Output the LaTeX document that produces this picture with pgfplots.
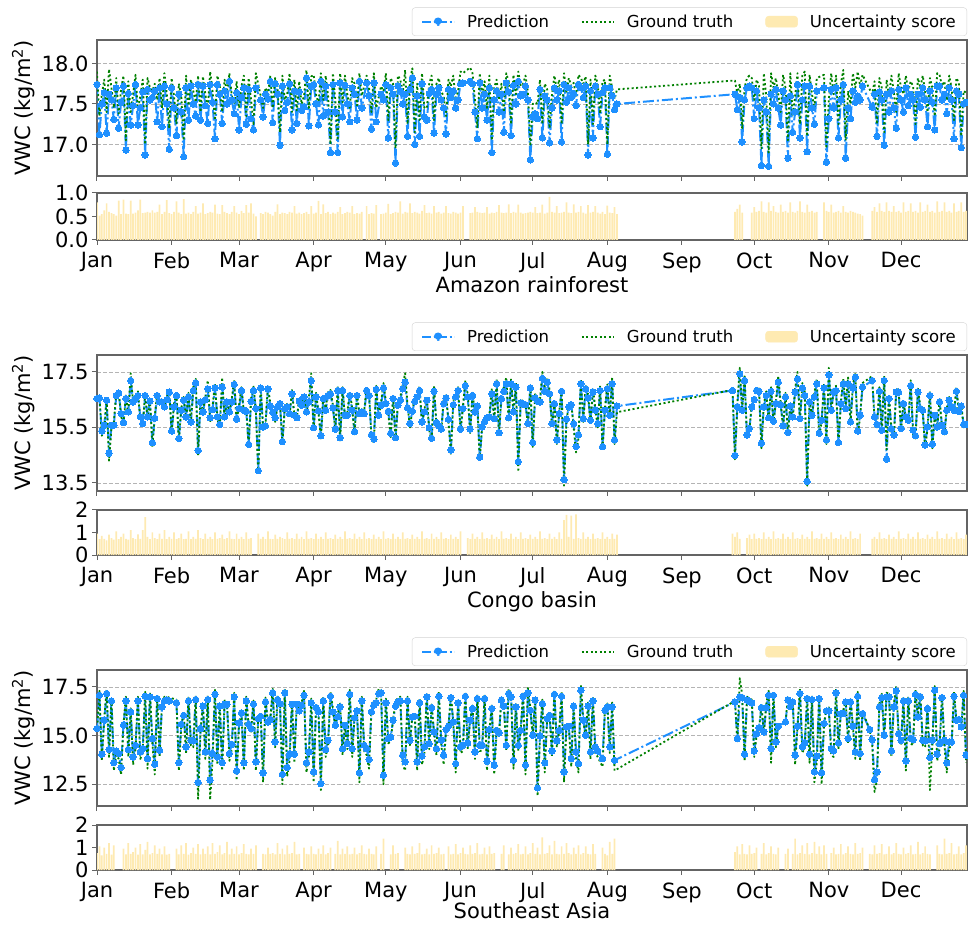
\documentclass[border=0pt]{standalone}
\usepackage{fontspec}
\setmainfont{DejaVu Sans}
\usepackage{pgfplots}
\usepackage{pgfplotstable}
\pgfplotsset{compat=1.18}
\definecolor{pred}{HTML}{1E90FF}
\definecolor{gt}{HTML}{008000}
\definecolor{unc}{RGB}{254,234,178}
\definecolor{spinecol}{RGB}{100,100,100}
\definecolor{gridcol}{RGB}{180,180,180}
\definecolor{legcol}{RGB}{210,210,210}

\pgfplotstableread{
d p g u
0 17.74 17.90 0.80
1 17.12 17.35 0.52
2 17.50 17.62 0.55
3 17.64 17.80 0.63
4 17.14 17.40 0.78
5 17.62 17.93 0.60
6 17.55 17.70 0.57
7 17.31 17.45 0.55
8 17.70 17.82 0.52
9 17.20 17.38 0.84
10 17.52 17.68 0.55
11 17.72 17.85 0.86
12 16.93 17.05 0.56
13 17.63 17.78 0.55
14 17.24 17.40 0.84
15 17.48 17.62 0.56
16 17.74 17.86 0.58
17 17.24 17.42 0.63
18 17.45 17.60 0.86
19 17.65 17.80 0.57
20 16.87 17.00 0.58
21 17.68 17.82 0.60
22 17.55 17.70 0.58
23 17.58 17.66 0.63
24 17.66 17.75 0.58
25 17.28 17.55 0.60
26 17.70 17.82 0.75
27 17.22 17.45 0.55
28 17.72 17.88 0.60
29 17.50 17.62 0.85
30 16.94 17.20 0.57
31 17.70 17.82 0.55
32 17.45 17.60 0.60
33 17.11 17.25 0.82
34 17.62 17.75 0.58
35 17.40 17.60 0.55
36 16.85 17.05 0.87
37 17.70 17.85 0.56
38 17.30 17.48 0.58
39 17.72 17.80 0.55
40 17.50 17.66 0.60
41 17.35 17.52 0.72
42 17.74 17.85 0.56
43 17.30 17.40 0.58
44 17.72 17.84 0.78
45 17.48 17.62 0.55
46 17.26 17.45 0.57
47 17.74 17.90 0.60
48 17.52 17.66 0.58
49 17.07 17.30 0.75
50 17.74 17.85 0.56
51 17.62 17.72 0.55
52 17.26 17.40 0.74
53 17.66 17.80 0.60
54 17.50 17.65 0.57
55 17.78 17.88 0.55
56 17.55 17.60 0.60
57 17.38 17.50 0.72
58 17.64 17.78 0.58
59 17.18 17.45 0.55
60 17.58 17.72 0.62
61 17.70 17.85 0.57
62 17.25 17.35 0.74
63 17.68 17.82 0.58
64 17.32 17.55 0.78
65 17.18 17.25 0.56
66 17.70 17.88 0.50
68 17.55 17.60 0.57
69 17.34 17.45 0.55
70 17.62 17.70 0.60
71 17.56 17.62 0.58
72 17.78 17.85 0.55
73 17.27 17.45 0.52
74 17.75 17.82 0.60
75 17.62 17.72 0.76
76 16.99 17.15 0.55
77 17.72 17.85 0.58
78 17.42 17.55 0.57
79 17.52 17.62 0.55
80 17.75 17.88 0.60
81 17.18 17.40 0.58
82 17.66 17.80 0.72
83 17.26 17.42 0.56
84 17.65 17.78 0.58
85 17.42 17.50 0.55
86 17.46 17.60 0.57
87 17.82 17.92 0.60
88 17.23 17.45 0.55
89 17.72 17.84 0.72
90 17.74 17.86 0.56
91 17.50 17.62 0.58
92 17.24 17.50 0.83
93 17.78 17.88 0.55
94 17.35 17.55 0.76
95 17.72 17.85 0.57
96 17.40 17.60 0.60
97 16.90 17.00 0.55
98 17.74 17.88 0.58
99 17.40 17.55 0.56
100 16.90 17.05 0.60
101 17.76 17.88 0.70
102 17.34 17.52 0.55
103 17.73 17.85 0.57
104 17.50 17.62 0.60
105 17.28 17.45 0.58
106 17.70 17.82 0.72
107 17.62 17.75 0.55
108 17.30 17.48 0.57
109 17.78 17.88 0.56
110 17.45 17.60 0.60
112 17.76 17.85 0.72
113 17.60 17.70 0.55
114 17.19 17.40 0.57
115 17.76 17.88 0.56
116 17.28 17.45 0.74
118 17.62 17.72 0.55
119 17.55 17.66 0.56
120 17.74 17.88 0.58
121 17.08 17.30 0.77
122 17.70 17.82 0.55
123 17.62 17.75 0.57
124 16.77 16.95 0.60
125 17.72 17.85 0.58
126 17.66 17.80 0.82
127 17.50 17.62 0.56
128 17.62 17.92 0.60
129 17.10 17.25 0.58
130 17.68 17.80 0.78
131 17.82 17.94 0.57
132 17.00 17.15 0.60
133 17.60 17.75 0.58
134 17.10 17.30 0.56
135 17.75 17.88 0.62
136 17.34 17.45 0.74
137 17.30 17.45 0.57
138 17.63 17.75 0.58
139 17.68 17.85 0.56
140 17.14 17.30 0.72
141 17.62 17.75 0.58
142 17.70 17.82 0.60
143 17.55 17.65 0.56
144 17.45 17.60 0.58
145 17.13 17.35 0.72
146 17.68 17.80 0.57
147 17.58 17.72 0.56
148 17.66 17.85 0.60
149 17.45 17.55 0.58
150 17.55 17.66 0.56
151 17.75 17.90 0.58
152 17.76 17.88 0.72
155 17.78 17.95 0.57
156 17.75 17.88 0.58
157 17.40 17.55 0.70
158 17.07 17.20 0.60
159 17.76 17.88 0.58
160 17.45 17.60 0.57
161 17.62 17.78 0.58
162 17.30 17.45 0.70
163 17.70 17.85 0.56
164 16.90 17.05 0.58
165 17.55 17.70 0.57
166 17.66 17.80 0.60
167 17.40 17.55 0.74
168 17.62 17.75 0.58
169 17.15 17.40 0.57
170 17.76 17.88 0.58
171 17.65 17.78 0.76
172 17.11 17.25 0.57
173 17.73 17.86 0.60
174 17.50 17.62 0.58
175 17.78 17.90 0.75
176 17.60 17.72 0.58
177 17.62 17.75 0.56
178 17.72 17.85 0.57
179 17.55 17.65 0.58
180 16.81 16.98 0.60
181 17.34 17.50 0.58
182 17.38 17.52 0.70
183 17.32 17.50 0.57
184 17.68 17.80 0.58
185 17.08 17.25 0.75
186 17.60 17.75 0.56
187 17.55 17.68 0.58
188 17.02 17.20 0.92
189 17.45 17.62 0.60
190 17.70 17.85 0.58
191 17.55 17.68 0.72
192 17.66 17.80 0.57
193 17.03 17.25 0.58
194 17.74 17.88 0.60
195 17.52 17.65 0.80
196 17.70 17.82 0.58
197 17.58 17.72 0.57
198 17.63 17.76 0.76
199 17.48 17.60 0.58
200 17.74 17.86 0.60
201 17.70 17.82 0.72
202 17.58 17.75 0.58
203 17.72 17.84 0.56
204 16.87 17.00 0.74
205 17.66 17.80 0.58
206 17.08 17.25 0.60
207 17.72 17.85 0.72
208 17.62 17.75 0.58
209 17.22 17.38 0.56
210 17.64 17.78 0.60
211 17.70 17.80 0.55
212 16.88 17.00 0.73
213 17.70 17.85 0.58
214 17.60 17.70 0.57
215 17.43 17.56 0.70
216 17.50 17.68 0.55
265 17.62 17.79 0.60
266 17.43 17.62 0.66
267 17.58 17.75 0.75
268 17.03 17.20 0.58
269 17.55 17.70 nan
270 17.70 17.82 nan
271 17.72 17.85 nan
272 17.70 17.82 0.58
273 17.32 17.55 0.70
274 17.66 17.80 0.60
275 17.45 17.72 0.62
276 16.74 16.95 0.82
277 17.55 17.88 0.60
278 17.40 17.60 0.58
279 16.73 16.90 0.80
280 17.62 17.88 0.62
281 17.50 17.70 0.72
282 17.68 17.82 0.60
283 17.45 17.62 0.58
284 17.24 17.40 0.75
285 17.66 17.86 0.60
286 17.55 17.70 0.62
287 16.83 17.05 0.58
288 17.60 17.88 0.80
289 17.15 17.35 0.60
290 17.40 17.60 0.58
291 17.74 17.88 0.62
292 17.08 17.25 0.82
293 17.55 17.85 0.60
294 17.72 17.90 0.58
295 16.91 17.10 0.75
296 17.72 17.86 0.60
297 17.45 17.62 0.62
298 17.25 17.45 0.58
299 17.66 17.82 0.60
302 17.70 17.86 0.80
303 16.78 16.95 0.62
304 17.32 17.55 0.60
305 17.68 17.88 0.75
306 17.45 17.62 0.58
307 17.70 17.85 0.60
308 17.08 17.25 0.62
309 17.55 17.75 0.58
310 17.74 17.92 0.72
311 16.83 17.05 0.60
312 17.45 17.66 0.58
313 17.32 17.50 0.62
314 17.66 17.88 0.60
315 17.52 17.70 0.58
316 17.60 17.90 0.56
317 17.55 17.72 0.55
318 17.72 17.86 0.52
322 17.46 17.62 0.62
323 17.62 17.78 0.70
324 17.10 17.25 0.60
325 17.65 17.82 0.78
326 17.55 17.70 0.62
327 16.99 17.15 0.60
328 17.62 17.80 0.80
329 17.40 17.60 0.62
330 17.66 17.85 0.60
331 17.45 17.65 0.72
332 17.20 17.40 0.60
333 17.68 17.88 0.62
334 17.55 17.70 0.58
335 17.40 17.62 0.80
336 17.70 17.85 0.60
337 17.48 17.66 0.62
338 17.62 17.78 0.78
339 17.55 17.72 0.60
340 17.09 17.25 0.62
341 17.62 17.82 0.58
342 17.46 17.70 0.80
343 17.70 17.85 0.60
344 17.55 17.66 0.62
345 17.22 17.40 0.75
346 17.66 17.82 0.60
347 17.52 17.70 0.62
348 17.18 17.35 0.58
349 17.72 17.88 0.82
350 17.72 17.86 0.60
351 17.55 17.72 0.62
352 17.62 17.78 0.80
353 17.38 17.55 0.60
354 17.70 17.85 0.62
355 17.55 17.70 0.58
356 17.07 17.30 0.78
357 17.66 17.82 0.60
358 17.62 17.76 0.62
359 16.96 17.10 0.80
360 17.50 17.66 0.60
361 17.52 17.64 0.62
}\amazon

\pgfplotstableread{
d p g u
0 16.54 16.60 0.95
1 16.56 16.70 0.70
2 15.37 15.20 0.85
3 15.58 15.40 0.72
4 16.48 16.55 0.65
5 14.57 14.30 0.90
6 15.58 15.45 0.75
7 15.58 15.70 0.68
8 16.65 16.75 1.05
9 16.74 16.80 0.70
10 16.00 15.90 0.80
11 15.68 15.60 0.95
12 16.54 16.65 0.72
13 16.06 16.00 0.68
14 17.19 17.45 1.10
15 16.42 16.35 0.75
16 16.54 16.60 0.70
17 16.65 16.80 0.92
18 15.88 15.75 0.72
19 15.64 15.60 1.10
20 16.65 16.70 1.68
21 15.88 15.80 0.80
22 16.45 16.55 0.70
23 14.95 14.80 1.00
24 15.83 15.90 0.75
25 16.65 16.75 0.70
26 16.42 16.50 0.95
27 16.42 16.35 0.72
28 16.24 16.30 1.10
29 16.50 16.60 0.70
30 16.77 16.90 0.80
31 15.37 15.30 0.72
32 16.24 16.35 1.00
33 16.65 16.75 0.70
34 15.10 15.00 0.75
35 16.12 16.20 0.95
36 16.48 16.60 0.70
37 15.88 15.80 0.72
38 16.60 16.75 1.05
39 15.70 15.65 0.70
40 16.83 16.95 0.80
41 17.10 17.25 0.72
42 14.67 14.50 1.10
43 16.42 16.50 0.75
44 16.06 16.10 0.70
45 16.50 16.60 0.95
46 16.89 17.20 0.72
47 15.85 15.70 0.80
48 16.14 16.25 0.70
49 16.92 17.10 1.00
50 15.88 15.80 0.72
51 15.61 15.50 0.75
52 16.95 17.30 0.90
53 15.88 15.80 0.70
54 16.42 16.50 0.75
55 16.06 16.00 1.05
56 16.42 16.55 0.72
57 17.05 17.20 0.70
58 15.80 15.70 0.95
59 16.18 16.30 0.72
60 16.83 16.95 0.80
61 16.12 16.05 0.70
62 16.08 16.20 1.00
63 14.89 14.80 0.72
64 16.44 16.55 0.75
65 16.83 17.00 nan
66 16.18 16.10 nan
67 13.94 13.80 0.95
68 16.92 17.05 0.72
69 15.52 15.40 0.80
70 15.56 15.65 0.70
71 16.89 17.00 1.05
72 16.27 16.35 0.72
73 16.05 16.10 0.70
74 15.85 15.70 0.90
75 16.24 16.30 0.72
76 16.36 16.45 0.80
77 14.99 14.85 0.75
78 16.18 16.25 0.70
79 16.24 16.35 1.00
80 16.00 15.95 0.72
81 16.71 16.85 0.75
82 15.94 15.90 0.70
83 15.85 15.80 0.95
84 16.45 16.55 0.72
85 16.30 16.40 0.80
86 16.60 16.70 0.70
87 16.06 16.00 1.05
88 16.42 16.55 0.72
89 17.19 17.45 0.75
90 15.49 15.40 0.70
91 16.60 16.75 0.95
92 16.10 16.05 0.72
93 15.20 15.10 0.80
94 16.54 16.65 0.70
95 16.12 16.20 1.00
96 16.65 16.80 0.72
97 16.71 16.85 0.75
98 16.20 16.30 0.70
99 15.44 15.35 0.90
100 16.83 17.00 0.72
101 15.13 15.00 0.80
102 16.83 16.95 0.70
103 15.94 15.85 1.05
104 15.94 16.05 0.72
105 16.65 16.80 0.75
106 16.12 16.20 0.70
107 15.35 15.25 0.95
108 16.65 16.75 0.72
109 16.00 15.95 0.80
110 16.06 16.15 0.70
111 16.00 16.10 1.00
112 16.83 16.95 0.72
113 16.65 16.80 0.75
114 15.23 15.10 0.70
115 15.08 14.95 0.90
116 16.87 17.00 0.72
117 15.94 15.85 0.80
118 16.30 16.40 0.70
119 16.92 17.10 1.05
120 16.36 16.45 0.72
121 16.08 16.00 0.75
122 15.29 15.15 0.70
123 16.54 16.65 0.95
124 15.13 15.00 0.72
125 16.30 16.40 0.80
126 16.48 16.60 0.70
127 16.89 17.05 1.00
128 17.13 17.45 0.72
129 16.20 16.30 0.75
130 15.64 15.50 0.70
131 16.08 16.15 0.90
132 16.44 16.55 0.72
133 16.60 16.70 0.80
134 16.83 17.00 0.70
135 15.70 15.60 1.05
136 16.06 16.15 0.72
137 16.48 16.60 0.75
138 15.49 15.40 0.70
139 15.11 15.00 0.95
140 16.80 17.00 0.72
141 15.68 15.60 0.80
142 15.56 15.50 0.70
143 15.44 15.35 1.00
144 16.36 16.50 0.72
145 16.56 16.70 0.75
146 15.79 15.70 0.70
147 14.69 14.55 0.90
148 16.32 16.45 0.72
149 16.60 16.75 0.80
150 16.83 16.95 0.70
151 15.44 15.35 1.05
152 16.18 16.25 nan
153 17.01 17.20 nan
154 16.60 16.70 0.75
155 15.44 15.30 0.70
156 16.65 16.75 0.95
157 16.06 16.00 0.72
158 16.27 16.35 0.80
159 14.43 14.30 0.70
160 15.52 15.60 1.00
161 15.70 15.75 0.72
162 15.85 15.90 0.75
163 15.88 15.95 0.70
164 16.71 16.90 0.90
165 15.82 15.75 0.72
166 17.07 17.25 0.80
167 15.31 15.20 0.70
168 16.54 16.65 1.05
169 16.80 16.95 0.72
170 17.07 17.30 0.75
171 15.85 15.75 0.70
172 17.07 17.25 0.95
173 16.06 16.00 0.72
174 16.95 17.10 0.80
175 14.27 13.90 0.70
176 16.39 16.50 1.00
177 16.35 16.45 0.72
178 16.32 16.40 0.75
179 15.64 15.55 0.70
180 16.92 17.05 0.90
181 14.96 14.80 0.72
182 16.56 16.70 0.80
183 16.44 16.55 0.70
184 16.42 16.50 1.05
185 17.27 17.50 0.72
186 16.80 16.95 0.75
187 17.13 17.30 0.70
188 16.71 16.85 0.95
189 15.64 15.50 0.72
190 16.36 16.45 0.80
191 15.05 14.90 0.70
192 16.00 16.05 1.00
193 16.80 16.90 0.72
194 13.62 13.40 1.55
195 15.80 15.70 1.78
196 16.24 16.35 0.80
197 16.32 16.40 1.75
198 15.64 15.50 0.72
199 14.81 14.60 1.80
200 15.23 15.10 0.75
201 17.07 17.25 0.70
202 15.82 15.70 1.00
203 16.89 17.00 0.72
204 16.56 16.70 0.80
205 15.76 15.65 0.70
206 16.77 16.90 0.95
207 16.12 16.20 0.72
208 15.64 15.50 0.75
209 16.83 17.00 0.70
210 14.81 14.70 1.00
211 16.12 16.20 0.72
212 16.89 17.05 0.80
213 15.94 15.85 0.70
214 17.07 17.30 0.95
215 15.05 14.90 0.72
216 16.27 16.05 0.90
264 16.83 16.85 0.95
265 14.49 14.35 0.80
266 16.24 16.40 1.00
267 17.43 17.65 0.72
268 16.12 16.05 nan
269 17.19 17.40 nan
270 15.23 15.10 0.75
271 15.46 15.40 0.90
272 16.24 16.35 0.70
273 16.50 16.60 0.95
274 16.83 16.95 0.72
275 16.80 16.90 0.75
276 14.93 14.75 0.70
277 16.24 16.35 1.00
278 16.65 16.80 0.72
279 15.85 15.75 0.80
280 16.80 16.95 0.70
281 15.73 15.65 1.05
282 16.36 16.45 0.72
283 17.13 17.35 0.75
284 16.32 16.40 0.70
285 15.56 15.45 0.95
286 16.60 16.75 0.72
287 15.32 15.20 0.80
288 16.27 16.35 0.70
289 15.88 15.80 1.00
290 16.77 16.90 0.72
291 17.25 17.50 0.75
292 15.82 15.75 0.70
293 16.92 17.10 0.90
294 16.65 16.80 0.72
295 13.56 13.40 0.80
296 16.42 16.55 0.70
297 15.94 15.85 1.05
298 16.60 16.75 0.72
299 17.07 17.25 0.75
300 15.29 15.15 0.70
301 15.76 15.70 0.95
302 16.92 17.10 0.72
303 15.05 14.90 0.80
304 17.39 17.65 0.70
305 16.12 16.05 1.00
306 16.77 16.90 0.72
307 16.83 17.00 0.75
308 14.96 14.80 0.70
309 16.36 16.45 0.90
310 17.07 17.25 0.72
311 16.18 16.30 0.80
312 17.07 17.30 0.70
313 15.70 15.60 1.05
314 16.92 17.05 0.72
315 17.31 17.45 0.75
316 15.37 15.25 0.70
317 15.94 15.85 0.95
318 16.95 17.10 nan
322 17.19 17.35 0.72
323 15.88 15.75 0.80
324 15.61 15.50 0.70
325 16.80 16.95 1.00
326 15.40 15.30 0.72
327 17.19 17.35 0.75
328 14.36 14.70 0.70
329 16.54 16.70 0.90
330 15.46 15.35 0.72
331 15.23 15.10 0.80
332 16.77 16.90 0.70
333 16.77 16.85 1.05
334 15.46 15.35 0.72
335 16.36 16.45 0.75
336 15.88 15.80 0.70
337 15.76 15.65 0.95
338 17.01 17.20 0.72
339 15.40 15.25 0.80
340 15.20 15.10 0.70
341 16.77 16.90 1.00
342 16.18 16.25 0.72
343 16.12 16.05 0.75
344 14.87 14.75 0.70
345 15.52 15.45 0.90
346 16.65 16.80 0.72
347 14.90 14.75 0.80
348 15.94 15.90 0.70
349 15.52 15.45 1.05
350 16.42 16.55 0.72
351 15.58 15.50 0.75
352 15.35 15.25 0.70
353 16.12 16.20 0.95
354 16.48 16.60 0.72
355 16.24 16.35 0.80
356 16.12 16.05 0.70
357 16.80 16.95 1.00
358 16.08 16.05 0.72
359 16.27 16.35 0.75
360 15.61 15.50 0.70
361 15.61 15.55 0.90
}\congo

\pgfplotstableread{
d p g u
0 15.36 15.20 0.75
1 17.07 17.30 1.05
2 14.04 13.70 0.65
3 15.79 15.90 1.00
4 17.16 17.35 0.72
5 14.28 13.90 1.20
6 16.78 16.95 0.68
7 13.61 13.20 1.10
8 14.21 14.00 nan
9 14.08 13.80 nan
10 13.36 13.00 nan
11 15.53 15.60 0.95
12 16.78 17.00 0.70
13 14.28 13.90 1.20
14 16.22 16.40 0.72
15 13.90 13.50 0.80
16 14.50 14.30 1.00
17 16.78 17.00 0.68
18 14.16 13.80 1.15
19 14.33 14.10 0.70
20 17.02 17.25 0.90
21 13.82 13.30 1.25
22 16.99 17.20 0.70
23 14.85 14.60 0.75
24 13.53 13.00 1.10
25 16.90 17.10 0.72
26 14.25 13.90 0.95
27 16.47 16.65 0.70
28 16.78 17.00 1.05
29 16.82 17.00 0.68
30 16.78 16.95 0.72
33 16.68 16.85 0.95
34 13.61 13.20 0.70
35 15.58 15.50 1.10
36 16.04 16.20 0.72
37 14.42 14.10 1.20
38 16.78 17.00 0.68
39 14.76 14.50 0.75
40 14.73 14.40 1.00
41 16.85 17.05 0.72
42 12.59 11.75 1.15
43 15.36 15.20 0.70
44 16.51 16.70 0.95
45 14.16 13.80 0.72
46 16.85 17.05 1.05
47 12.71 11.70 0.70
48 14.08 13.70 1.20
49 17.12 17.35 0.72
50 13.90 13.50 0.80
51 16.51 16.70 1.10
52 13.61 13.20 0.70
53 16.61 16.80 0.75
54 16.61 16.75 1.25
55 14.08 13.70 0.70
56 14.55 14.30 0.95
57 16.99 17.20 0.72
58 13.18 12.70 1.05
59 15.65 15.60 0.70
60 16.16 16.30 0.75
61 13.60 13.20 1.15
62 16.78 17.00 0.72
63 15.58 15.50 0.70
64 15.36 15.20 0.95
65 16.61 16.80 0.72
66 13.65 13.20 1.10
67 15.87 15.90 nan
68 15.99 16.10 nan
69 13.08 12.60 0.72
70 16.73 16.95 0.70
71 15.70 15.60 1.00
72 15.82 15.90 0.72
73 17.19 17.40 0.75
74 14.67 14.40 0.70
75 16.85 17.05 1.20
76 16.64 16.80 0.72
77 13.01 12.50 0.95
78 17.19 17.40 0.70
79 13.36 12.90 1.10
80 14.04 13.70 0.72
81 16.61 16.80 0.75
82 14.04 13.60 1.25
83 16.61 16.80 0.70
84 16.27 16.40 0.72
85 16.56 16.70 nan
86 17.07 17.30 1.00
87 13.60 13.10 0.72
88 14.16 13.90 0.70
89 16.68 16.90 1.05
90 13.13 12.60 0.72
91 16.44 16.60 0.70
92 16.22 16.35 0.95
93 12.53 12.20 0.72
94 16.78 17.00 1.10
95 14.28 13.90 0.70
96 14.76 14.50 0.75
97 17.02 17.25 1.00
98 16.22 16.40 nan
99 15.53 15.45 0.72
100 15.96 16.10 1.30
101 16.47 16.65 0.70
102 14.33 14.00 0.95
103 15.53 15.50 0.72
104 14.59 14.30 1.05
105 17.12 17.35 0.70
106 14.33 13.90 0.72
107 15.91 16.00 1.00
108 16.27 16.45 0.70
109 13.08 12.60 0.75
110 16.78 17.00 1.10
111 14.50 14.20 0.72
112 14.33 14.00 0.70
113 13.77 13.30 0.95
114 16.22 16.40 0.72
115 16.56 16.75 0.70
116 16.68 16.85 1.05
117 17.16 17.40 nan
118 17.19 17.35 0.72
119 12.96 12.50 1.40
120 16.68 16.90 nan
121 14.85 14.60 nan
122 14.93 14.70 0.70
123 15.79 15.85 1.10
124 16.51 16.70 0.72
125 16.73 16.95 0.75
126 16.78 17.00 nan
127 13.99 13.50 nan
128 13.65 13.20 1.00
129 16.78 17.00 0.72
130 14.76 14.50 0.70
131 15.96 16.05 1.05
132 15.99 16.10 0.72
133 13.65 13.20 0.75
134 16.68 16.90 1.20
135 13.94 13.50 0.70
136 14.42 14.10 0.72
137 16.99 17.20 0.95
138 14.59 14.30 0.70
139 16.44 16.60 1.10
140 15.19 15.10 0.72
141 14.33 14.00 0.75
142 17.02 17.25 1.00
143 14.76 14.50 0.70
144 13.99 13.50 0.72
145 15.31 15.20 nan
146 15.48 15.40 1.05
147 16.95 17.15 0.70
148 15.70 15.65 0.72
149 13.56 13.10 1.15
150 16.68 16.90 0.70
151 14.42 14.10 0.75
152 14.50 14.20 1.00
153 17.02 17.25 0.72
154 14.62 14.30 0.70
155 15.79 15.80 1.10
156 16.39 16.55 0.72
157 14.16 13.80 0.75
158 16.90 17.10 1.20
159 14.50 14.20 0.70
160 14.50 14.25 0.72
161 16.90 17.10 1.00
162 13.68 13.20 0.70
163 15.31 15.25 1.05
164 16.39 16.55 0.72
165 13.48 13.00 0.75
166 15.27 15.20 nan
167 15.14 15.05 nan
168 16.82 17.00 0.72
169 16.51 16.70 1.10
170 14.50 14.20 nan
171 17.16 17.40 0.70
172 16.99 17.15 1.00
173 13.73 13.30 0.72
174 16.47 16.65 0.75
175 14.50 14.20 1.15
176 15.27 15.20 0.70
177 17.02 17.25 0.72
178 13.48 13.00 1.05
179 17.19 17.45 0.70
180 16.30 16.45 0.75
181 15.02 14.90 1.20
182 16.82 17.00 0.72
183 12.31 11.90 1.00
184 14.97 14.80 0.70
185 16.64 16.85 1.45
186 13.60 13.10 0.72
187 15.87 15.90 0.75
188 16.04 16.20 1.10
189 14.21 13.90 0.70
190 17.12 17.35 1.30
191 14.73 14.40 0.72
192 15.27 15.20 0.70
193 17.02 17.25 1.05
194 13.13 12.60 0.72
195 15.45 15.40 1.20
196 15.48 15.45 0.75
197 13.82 13.40 0.70
198 16.51 16.70 1.00
199 14.16 13.80 0.72
200 13.56 13.10 1.10
201 17.33 17.60 0.70
202 15.79 15.80 0.75
203 15.02 14.90 1.05
204 16.51 16.70 0.72
205 14.16 13.80 0.70
206 16.78 17.00 1.15
207 14.42 14.10 0.72
208 14.21 13.90 nan
210 13.82 13.40 1.00
211 16.30 16.45 0.72
212 16.47 16.65 0.65
213 14.42 14.10 1.25
214 16.47 16.70 0.72
215 13.73 13.20 1.40
265 16.73 16.78 0.80
266 14.85 14.70 1.05
267 16.99 17.95 0.70
268 16.94 17.10 1.15
269 14.04 13.70 0.72
270 16.82 17.00 0.70
271 16.75 16.90 1.10
272 16.68 16.85 0.72
273 14.21 13.90 0.75
274 15.10 15.00 1.00
275 15.40 15.30 nan
276 16.44 16.60 0.72
277 15.19 15.10 1.20
278 16.44 16.60 0.70
279 17.07 17.30 0.75
280 14.33 13.60 1.05
281 17.07 17.25 0.72
282 14.67 14.40 0.70
283 15.48 15.45 1.00
286 15.70 15.65 0.72
287 16.82 17.00 0.95
288 16.50 16.70 nan
289 16.73 16.90 0.72
290 13.99 13.50 1.40
291 15.48 15.45 0.70
292 17.16 17.40 0.75
293 14.42 14.10 1.10
294 14.62 14.40 0.72
295 16.90 17.10 1.20
296 14.04 13.60 0.70
297 16.85 17.05 0.75
298 13.13 12.60 1.25
299 13.94 13.60 0.72
300 16.90 17.10 1.05
301 13.08 12.50 0.70
302 15.62 15.60 1.10
303 16.27 16.40 0.72
304 16.27 16.45 nan
305 14.33 14.00 0.75
306 14.21 13.90 1.00
307 17.19 17.40 0.70
308 14.62 14.30 0.72
309 16.13 16.25 1.15
310 16.13 16.30 0.70
311 16.73 16.90 0.75
312 14.85 14.60 1.05
313 16.73 16.95 0.72
314 15.48 15.45 0.70
315 14.16 13.80 1.20
316 17.02 17.25 0.72
317 14.08 13.70 0.75
318 16.13 16.30 1.00
321 15.31 15.25 0.72
322 14.79 14.50 0.70
323 12.74 12.10 1.10
324 13.13 12.70 0.72
325 16.47 16.65 0.75
326 16.95 17.15 1.15
327 15.02 14.90 0.70
328 16.99 17.20 0.72
329 16.99 17.15 1.05
330 14.21 13.90 0.70
331 16.47 16.65 0.75
332 17.30 17.55 1.20
333 15.10 15.00 0.72
334 14.76 14.50 0.70
335 16.78 17.00 1.00
336 13.70 13.20 0.72
337 16.78 17.00 0.75
338 14.85 14.60 1.10
339 14.79 14.50 0.70
340 17.12 17.35 0.72
341 15.96 16.05 1.25
342 16.99 17.20 0.70
343 14.76 14.50 0.75
344 14.73 14.40 1.05
345 16.39 16.55 0.72
346 13.87 12.20 0.70
347 14.76 14.50 nan
348 17.33 17.55 nan
349 14.04 13.70 1.10
350 14.59 14.30 0.72
351 16.95 17.15 0.70
352 14.76 14.50 1.40
353 13.60 13.10 0.72
354 14.67 14.40 0.75
355 14.67 14.40 1.20
356 17.02 17.25 0.70
357 15.79 15.80 0.72
358 15.82 15.85 1.05
359 15.45 15.40 0.70
360 17.07 17.30 0.75
361 13.99 13.60 1.10
}\seasia

\pgfplotsset{
  common/.style={
    scale only axis, width=870pt, anchor=south west,
    xmin=0, xmax=361.4,
    xtick={0,31,59,90,120,151,181,212,243,273,304,334},
    tick pos=left, tick align=outside,
    major tick length=5pt,
    tick style={spinecol, line width=1pt},
    axis line style={spinecol, line width=1.2pt},
    tick label style={font=\fontsize{21}{25}\selectfont},
    label style={font=\fontsize{21}{25}\selectfont},
  },
  mainax/.style={
    common, height=136pt,
    xticklabels={,,,,,,,,,,,},
    ymajorgrids, grid style={gridcol, line width=0.8pt, dash pattern=on 4pt off 2pt},
    ylabel={VWC (kg/m\textsuperscript{2})},
    legend style={at={(1,1.03)}, anchor=south east, legend columns=3,
      draw=legcol, rounded corners=3pt, fill=white,
      font=\fontsize{16.5}{19}\selectfont, inner xsep=9pt, inner ysep=5pt,
      /tikz/every odd column/.append style={column sep=10pt},
      /tikz/every even column/.append style={column sep=30pt}},
    legend cell align=left,
  },
  barax/.style={
    common,
    xticklabels={Jan,Feb,Mar,Apr,May,Jun,Jul,Aug,Sep,Oct,Nov,Dec},
    xticklabel shift=4pt,
    xlabel style={yshift=3pt},
  },
  predplot/.style={pred, line width=2pt, line join=round, dash pattern=on 11pt off 3pt on 2pt off 3pt,
    mark=*, mark size=3.2pt, mark options={solid, fill=pred, draw=pred, line width=0pt},
    legend image code/.code={\draw[pred, line width=2pt, dash pattern=on 9pt off 2.5pt on 2pt off 2.5pt] (0pt,0pt) -- (32pt,0pt); \fill[pred] (16pt,0pt) circle (3.2pt);}},
  gtplot/.style={gt, line width=1.8pt, line join=round, dash pattern=on 2pt off 2.5pt, no markers,
    legend image code/.code={\draw[gt, line width=1.8pt, dash pattern=on 2pt off 2.5pt] (0pt,0pt) -- (32pt,0pt);}},
  barplot/.style={ybar, bar width=0.72, bar shift=0pt, fill=unc, draw=none},
  uncleg/.style={legend image code/.code={\fill[unc] (0pt,-5.5pt) rectangle (32pt,5.5pt);}},
}

\begin{document}
\begin{tikzpicture}
\useasboundingbox (0,0) rectangle (968pt,927pt);
% ---------- Amazon ----------
\begin{axis}[mainax, at={(97pt,751pt)}, ymin=16.61, ymax=18.29,
  ytick={17,17.5,18}, yticklabels={17.0,17.5,18.0}]
\addplot[predplot] table[x=d,y=p]{\amazon};
\addlegendentry{Prediction}
\addplot[gtplot] table[x=d,y=g]{\amazon};
\addlegendentry{Ground truth}
\addlegendimage{uncleg}
\addlegendentry{Uncertainty score}
\end{axis}
\begin{axis}[barax, at={(97pt,687pt)}, height=47pt, ymin=0, ymax=1,
  ytick={0,0.5,1}, yticklabels={0.0,0.5,1.0}, xlabel={Amazon rainforest}]
\addplot[barplot] table[x=d,y=u]{\amazon};
\end{axis}
% ---------- Congo ----------
\begin{axis}[mainax, at={(97pt,436pt)}, ymin=13.21, ymax=18.11,
  ytick={13.5,15.5,17.5}, yticklabels={13.5,15.5,17.5}]
\addplot[predplot] table[x=d,y=p]{\congo};
\addlegendentry{Prediction}
\addplot[gtplot] table[x=d,y=g]{\congo};
\addlegendentry{Ground truth}
\addlegendimage{uncleg}
\addlegendentry{Uncertainty score}
\end{axis}
\begin{axis}[barax, at={(97pt,372pt)}, height=45pt, ymin=0, ymax=2,
  ytick={0,1,2}, yticklabels={0,1,2}, xlabel={Congo basin}]
\addplot[barplot] table[x=d,y=u]{\congo};
\end{axis}
% ---------- Southeast Asia ----------
\begin{axis}[mainax, at={(97pt,121pt)}, ymin=11.38, ymax=18.37,
  ytick={12.5,15,17.5}, yticklabels={12.5,15.0,17.5}]
\addplot[predplot] table[x=d,y=p]{\seasia};
\addlegendentry{Prediction}
\addplot[gtplot] table[x=d,y=g]{\seasia};
\addlegendentry{Ground truth}
\addlegendimage{uncleg}
\addlegendentry{Uncertainty score}
\end{axis}
\begin{axis}[barax, at={(97pt,57pt)}, height=45pt, ymin=0, ymax=2,
  ytick={0,1,2}, yticklabels={0,1,2}, xlabel={Southeast Asia},
  xlabel style={yshift=4pt}]
\addplot[barplot] table[x=d,y=u]{\seasia};
\end{axis}
\end{tikzpicture}
\end{document}
